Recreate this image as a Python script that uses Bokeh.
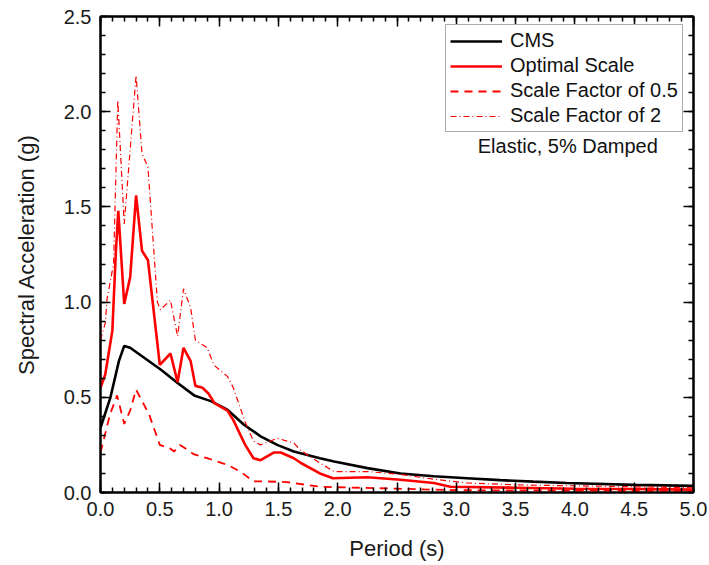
from bokeh.plotting import figure
from bokeh.models import (LinearAxis, Range1d, SingleIntervalTicker, Legend, LegendItem,
                          CustomJSTickFormatter, NumeralTickFormatter, Label)
from bokeh.embed import file_html
from bokeh.resources import INLINE

# ---- data ----
cms_T = [0.0, 0.084, 0.155, 0.20, 0.25, 0.51, 0.65, 0.79, 0.93, 1.07, 1.21, 1.35, 1.49, 1.63,
         1.85, 1.97, 2.25, 2.53, 2.81, 3.09, 3.37, 3.65, 3.93, 4.5, 5.0]
cms_Sa = [0.34, 0.50, 0.69, 0.77, 0.76, 0.645, 0.575, 0.51, 0.48, 0.435, 0.356, 0.295, 0.25, 0.215,
          0.18, 0.163, 0.128, 0.10, 0.085, 0.075, 0.065, 0.057, 0.05, 0.04, 0.035]

opt_T = [0.0, 0.04, 0.10, 0.13, 0.15, 0.20, 0.25, 0.30, 0.35, 0.40, 0.50, 0.59, 0.65, 0.70, 0.76,
         0.80, 0.86, 0.91, 0.96, 1.07, 1.12, 1.22, 1.29, 1.35, 1.46, 1.52, 1.63, 1.69, 1.85, 1.96,
         2.25, 2.53, 2.81, 2.95, 3.5, 4.0, 4.5, 5.0]
opt_Sa = [0.55, 0.62, 0.85, 1.27, 1.48, 0.99, 1.13, 1.56, 1.27, 1.22, 0.67, 0.73, 0.58, 0.76, 0.69,
          0.56, 0.55, 0.52, 0.47, 0.43, 0.38, 0.25, 0.18, 0.17, 0.21, 0.21, 0.18, 0.155, 0.10, 0.075,
          0.08, 0.067, 0.05, 0.03, 0.025, 0.02, 0.018, 0.015]

sf05_T = [0.0, 0.08, 0.14, 0.20, 0.25, 0.30, 0.41, 0.50, 0.59, 0.62, 0.67, 0.79, 0.90, 1.07, 1.18,
          1.29, 1.40, 1.57, 1.85, 2.5, 3.0, 4.0, 5.0]
sf05_Sa = [0.21, 0.41, 0.51, 0.36, 0.43, 0.54, 0.41, 0.25, 0.23, 0.215, 0.25, 0.20, 0.18, 0.145, 0.11,
           0.058, 0.058, 0.055, 0.03, 0.02, 0.012, 0.01, 0.008]

sf2_T = [0.0, 0.04, 0.056, 0.11, 0.146, 0.20, 0.30, 0.35, 0.40, 0.48, 0.505, 0.59, 0.65, 0.70, 0.76,
         0.80, 0.90, 0.955, 1.07, 1.12, 1.22, 1.29, 1.35, 1.49, 1.63, 1.69, 1.85, 1.97, 2.25, 2.53,
         2.81, 3.09, 3.5, 4.0, 4.5, 5.0]
sf2_Sa = [0.80, 0.89, 1.02, 1.20, 2.06, 1.41, 2.19, 1.78, 1.71, 1.00, 0.96, 1.01, 0.82, 1.07, 0.97,
          0.80, 0.76, 0.67, 0.61, 0.55, 0.37, 0.27, 0.25, 0.285, 0.26, 0.22, 0.155, 0.11, 0.11, 0.095,
          0.07, 0.05, 0.04, 0.035, 0.03, 0.025]

labels = ["CMS", "Optimal Scale", "Scale Factor of 0.5", "Scale Factor of 2"]
note = "Elastic, 5% Damped"

FONT = "Liberation Sans"

p = figure(width=709, height=565, output_backend="svg", toolbar_location=None,
           x_range=Range1d(0, 5), y_range=Range1d(0, 2.5),
           min_border_left=100, min_border_right=16, min_border_top=16, min_border_bottom=73,
           x_axis_label="Period (s)", y_axis_label="Spectral Acceleration (g)")
p.xgrid.visible = False
p.ygrid.visible = False
p.outline_line_color = "black"
p.outline_line_width = 2
p.background_fill_color = "white"
p.border_fill_color = "white"

def style_axis(ax, show_labels=True):
    ax.ticker = SingleIntervalTicker(interval=0.5, num_minor_ticks=5)
    ax.axis_line_width = 2
    ax.axis_line_color = "black"
    ax.major_tick_in = 10
    ax.major_tick_out = 0
    ax.minor_tick_in = 5
    ax.minor_tick_out = 0
    ax.major_tick_line_width = 1.5
    ax.minor_tick_line_width = 1.5
    ax.major_tick_line_color = "black"
    ax.minor_tick_line_color = "black"
    ax.major_label_text_font = FONT
    ax.major_label_text_font_size = "20px"
    ax.major_label_text_color = "#1a1a1a"
    ax.major_label_standoff = 9
    ax.axis_label_text_font = FONT
    ax.axis_label_text_font_size = "22px"
    ax.axis_label_text_font_style = "normal"
    ax.axis_label_text_color = "#1a1a1a"
    if show_labels:
        ax.formatter = NumeralTickFormatter(format="0.0")
    else:
        ax.formatter = CustomJSTickFormatter(code="return ''")
        ax.major_label_standoff = 0

for ax in p.xaxis:
    style_axis(ax)
    ax.axis_label_standoff = 17
for ax in p.yaxis:
    style_axis(ax)
    ax.axis_label_standoff = 22

top = LinearAxis()
style_axis(top, show_labels=False)
p.add_layout(top, "above")
right = LinearAxis()
style_axis(right, show_labels=False)
p.add_layout(right, "right")

r_cms = p.line(cms_T, cms_Sa, line_color="black", line_width=2.6)
r_opt = p.line(opt_T, opt_Sa, line_color="#ff0000", line_width=2.6)
r_05 = p.line(sf05_T, sf05_Sa, line_color="#ff0000", line_width=1.8, line_dash="8 6")
r_2 = p.line(sf2_T, sf2_Sa, line_color="#ff0000", line_width=1.2, line_dash="6 3 1 3")

legend = Legend(items=[LegendItem(label=labels[0], renderers=[r_cms]),
                       LegendItem(label=labels[1], renderers=[r_opt]),
                       LegendItem(label=labels[2], renderers=[r_05]),
                       LegendItem(label=labels[3], renderers=[r_2])],
                margin=0)
legend.border_line_color = "#555555"
legend.border_line_width = 1
legend.background_fill_alpha = 1
legend.label_text_font = FONT
legend.label_text_font_size = "20px"
legend.label_text_color = "#111111"
legend.glyph_width = 52
legend.glyph_height = 20
legend.label_height = 20
legend.spacing = 2
legend.padding = 4
legend.label_standoff = 8
legend.location = (345, 360)
p.add_layout(legend)

p.add_layout(Label(x=3.94, y=1.82, text=note, text_font=FONT, text_font_size="20px",
                   text_align="center", text_baseline="middle", text_color="#111111"))

open("out.html", "w").write(file_html(p, INLINE))
